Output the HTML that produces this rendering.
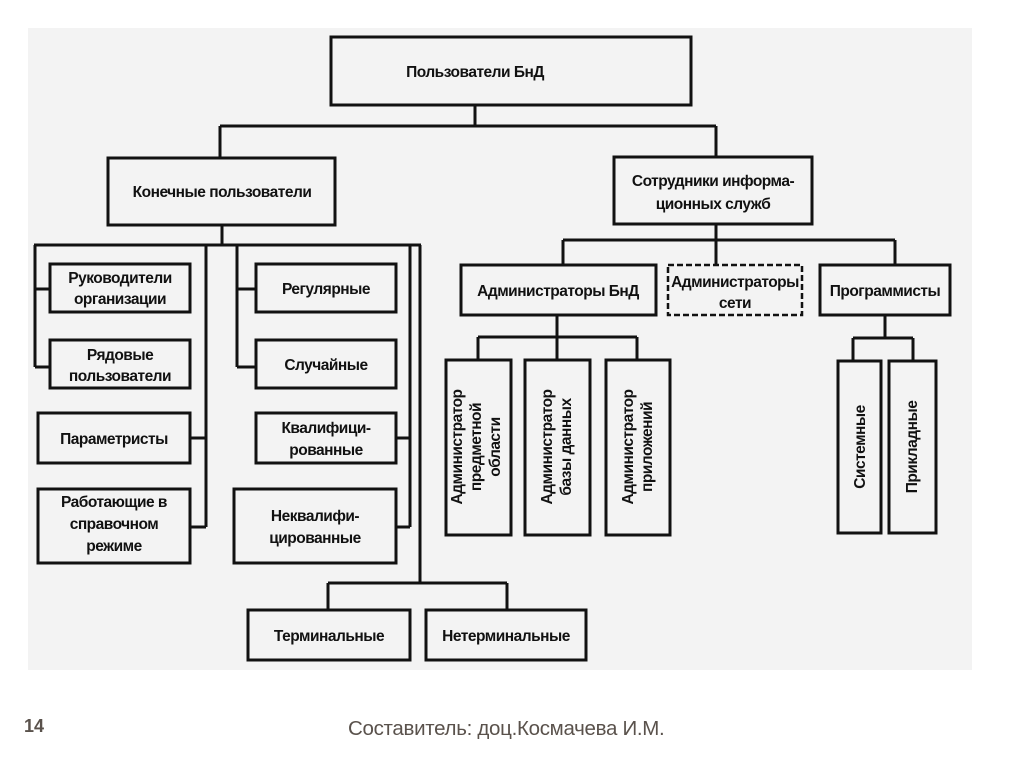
<!DOCTYPE html>
<html><head><meta charset="utf-8"><style>
html,body{margin:0;padding:0;background:#fff;width:1024px;height:767px;overflow:hidden}
svg{display:block}
text{font-family:"Liberation Sans","DejaVu Sans",sans-serif;font-weight:bold;font-size:15.5px;fill:#111;letter-spacing:-0.5px}
</style></head><body>
<svg width="1024" height="767" viewBox="0 0 1024 767">
<rect x="28" y="28" width="944" height="642" fill="#f3f3f3"/>
<g fill="none" stroke="#111" stroke-width="3">
<rect x="331" y="37" width="360" height="68"/>
<path d="M475 105V126M220 126H716M220 126V158M716 126V157"/>
<rect x="108" y="158" width="227" height="67"/>
<path d="M222 225V245M34 245H421M35 245V367M35 289H50M35 367H50M206 245V527M190 438H206M190 527H206M237 245V367M237 289H256M237 367H256M410 245V527M396 438H410M396 527H410M420 245V583M328 583H507M328 583V610M507 583V610"/>
<rect x="50" y="264" width="140" height="48"/>
<rect x="50" y="340" width="140" height="48"/>
<rect x="38" y="413" width="152" height="50"/>
<rect x="38" y="489" width="152" height="74"/>
<rect x="256" y="264" width="140" height="48"/>
<rect x="256" y="340" width="140" height="48"/>
<rect x="256" y="413" width="140" height="50"/>
<rect x="234" y="489" width="162" height="74"/>
<rect x="248" y="610" width="162" height="50"/>
<rect x="426" y="610" width="160" height="50"/>
<rect x="614" y="157" width="198" height="67"/>
<path d="M716 224V240M563 240H895M563 240V265M716 240V265M895 240V265"/>
<rect x="461" y="265" width="195" height="50"/>
<rect x="668" y="265" width="134" height="50" stroke-dasharray="6,3" stroke-width="2.5"/>
<rect x="820" y="265" width="130" height="50"/>
<path d="M557 315V337M478 337H637M478 337V360M557 337V360M637 337V360"/>
<rect x="446" y="360" width="65" height="175"/>
<rect x="525" y="360" width="65" height="175"/>
<rect x="606" y="360" width="64" height="175"/>
<path d="M885 315V338M853 338H913M853 338V361M913 338V361"/>
<rect x="838" y="361" width="43" height="172"/>
<rect x="889" y="361" width="47" height="172"/>
</g>
<g text-anchor="middle">
<text x="475" y="77">Пользователи БнД</text>
<text x="222" y="197">Конечные пользователи</text>
<text x="120" y="283">Руководители</text><text x="120" y="304">организации</text>
<text x="120" y="360">Рядовые</text><text x="120" y="381">пользователи</text>
<text x="114" y="444">Параметристы</text>
<text x="114" y="507">Работающие в</text><text x="114" y="529">справочном</text><text x="114" y="551">режиме</text>
<text x="326" y="294">Регулярные</text>
<text x="326" y="370">Случайные</text>
<text x="326" y="433">Квалифици-</text><text x="326" y="455">рованные</text>
<text x="315" y="521">Неквалифи-</text><text x="315" y="543">цированные</text>
<text x="329" y="641">Терминальные</text>
<text x="506" y="641">Нетерминальные</text>
<text x="713" y="186">Сотрудники информа-</text><text x="713" y="209">ционных служб</text>
<text x="558" y="296">Администраторы БнД</text>
<text x="735" y="287">Администраторы</text><text x="735" y="308">сети</text>
<text x="885" y="296">Программисты</text>
<g transform="translate(478,447) rotate(-90)"><text x="0" y="-16">Администратор</text><text x="0" y="3">предметной</text><text x="0" y="22">области</text></g>
<g transform="translate(557,447) rotate(-90)"><text x="0" y="-5">Администратор</text><text x="0" y="14">базы данных</text></g>
<g transform="translate(638,447) rotate(-90)"><text x="0" y="-5">Администратор</text><text x="0" y="14">приложений</text></g>
<g transform="translate(860,447) rotate(-90)"><text x="0" y="5">Системные</text></g>
<g transform="translate(912,447) rotate(-90)"><text x="0" y="5">Прикладные</text></g>
</g>
<text x="24" y="732" style="font-size:18px;fill:#5a524c;letter-spacing:0">14</text>
<text x="348" y="735" style="font-weight:normal;font-size:20.5px;fill:#5a524c;letter-spacing:-0.3px">Составитель: доц.Космачева И.М.</text>
</svg>
</body></html>
